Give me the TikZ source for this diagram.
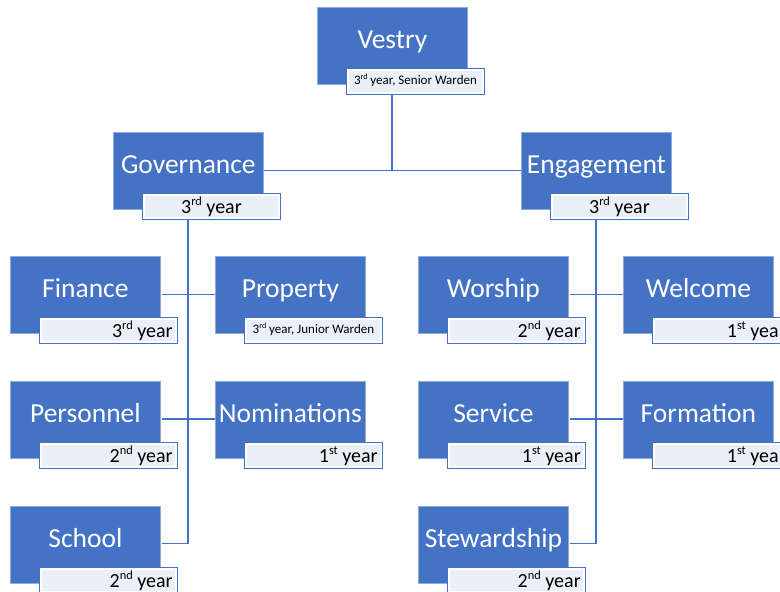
\documentclass[tikz,border=0pt]{standalone}
\usepackage{graphicx}
\usepackage{fontspec}
\setmainfont{Carlito}
\definecolor{obl}{HTML}{4472C4}
\definecolor{obd}{HTML}{8FAADC}
\definecolor{lblf}{HTML}{EBEFF8}
\newcommand\supx[1]{\raisebox{0.40em}{\scalebox{0.62}{#1}}}
\tikzset{
  mainbox/.style={anchor=north west, rectangle, fill=obl, draw=obd, line width=0.8pt,
    minimum width=150pt, minimum height=77pt, inner sep=0pt},
  lblbox/.style={anchor=north west, rectangle, fill=lblf, draw=obl, line width=0.9pt,
    minimum width=138pt, minimum height=26pt, inner sep=0pt},
  titletext/.style={anchor=base, text=white, inner sep=0pt, font=\fontsize{27.5}{30}\selectfont},
  yeartext/.style={inner sep=0pt, text=black, font=\fontsize{20}{22}\selectfont},
  smalltext/.style={inner sep=0pt, anchor=base, text=black, font=\fontsize{13}{15}\selectfont},
  conn/.style={draw=obl, line width=1.1pt}
}
% #1 name, #2 x, #3 y, #4 title
\newcommand\orgmain[4]{%
  \node[mainbox] (#1) at (#2,#3) {};
  \node[titletext] (#1t) at ([yshift=-41.5pt]#1.north) {#4};
  \node[lblbox] (#1l) at (#2+29,#3+61) {};
  \fill[white] ([xshift=1pt,yshift=-1pt]#1l.north west) rectangle ([xshift=-1pt,yshift=1pt]#1l.south east);
  \fill[lblf] ([xshift=3pt,yshift=-3pt]#1l.north west) rectangle ([xshift=-3pt,yshift=3pt]#1l.south east);
}
\newcommand\yearright[2]{%
  \node[yeartext, anchor=base east] (#1y) at ([xshift=-5pt,yshift=-20pt]#1l.north east) {#2};
}
\newcommand\yearcenter[2]{%
  \node[yeartext, anchor=base] (#1y) at ([yshift=-20pt]#1l.north) {#2};
}
\newcommand\yearsmall[2]{%
  \node[smalltext] (#1y) at ([yshift=-16.5pt]#1l.north) {#2};
}
\begin{document}
\begin{tikzpicture}[x=1pt,y=-1pt]
\useasboundingbox (0,0) rectangle (780,592);
\fill[white] (0,0) rectangle (780,592);
\clip (0,0) rectangle (780,592);

% connectors (drawn first, behind boxes)
\coordinate (ves0) at (392,94);
\coordinate (gov0) at (188,218);
\coordinate (eng0) at (596,218);
\draw[conn] (ves0) -- (392,170.5);
\draw[conn] (263,170.5) -- (521,170.5);
\draw[conn] (gov0) -- (188,543.5) -- (162,543.5);
\draw[conn] (162,294.5) -- (215,294.5);
\draw[conn] (162,419) -- (215,419);
\draw[conn] (eng0) -- (596,543.5) -- (570,543.5);
\draw[conn] (570,294.5) -- (623,294.5);
\draw[conn] (570,419) -- (623,419);

\orgmain{ves}{317}{7}{Vestry}
\yearsmall{ves}{3\supx{rd} year, Senior Warden}

\orgmain{gov}{113}{132}{Governance}
\yearcenter{gov}{3\supx{rd} year}
\orgmain{eng}{521}{132}{Engagement}
\yearcenter{eng}{3\supx{rd} year}

\orgmain{fin}{10}{256}{Finance}
\yearright{fin}{3\supx{rd} year}
\orgmain{pro}{215}{256}{Property}
\yearsmall{pro}{3\supx{rd} year, Junior Warden}
\orgmain{per}{10}{381}{Personnel}
\yearright{per}{2\supx{nd} year}
\orgmain{nom}{215}{381}{Nominations}
\yearright{nom}{1\supx{st} year}
\orgmain{sch}{10}{506}{School}
\yearright{sch}{2\supx{nd} year}

\orgmain{wor}{418}{256}{Worship}
\yearright{wor}{2\supx{nd} year}
\orgmain{wel}{623}{256}{Welcome}
\yearright{wel}{1\supx{st} year}
\orgmain{ser}{418}{381}{Service}
\yearright{ser}{1\supx{st} year}
\orgmain{for}{623}{381}{Formation}
\yearright{for}{1\supx{st} year}
\orgmain{ste}{418}{506}{Stewardship}
\yearright{ste}{2\supx{nd} year}
\end{tikzpicture}
\end{document}
